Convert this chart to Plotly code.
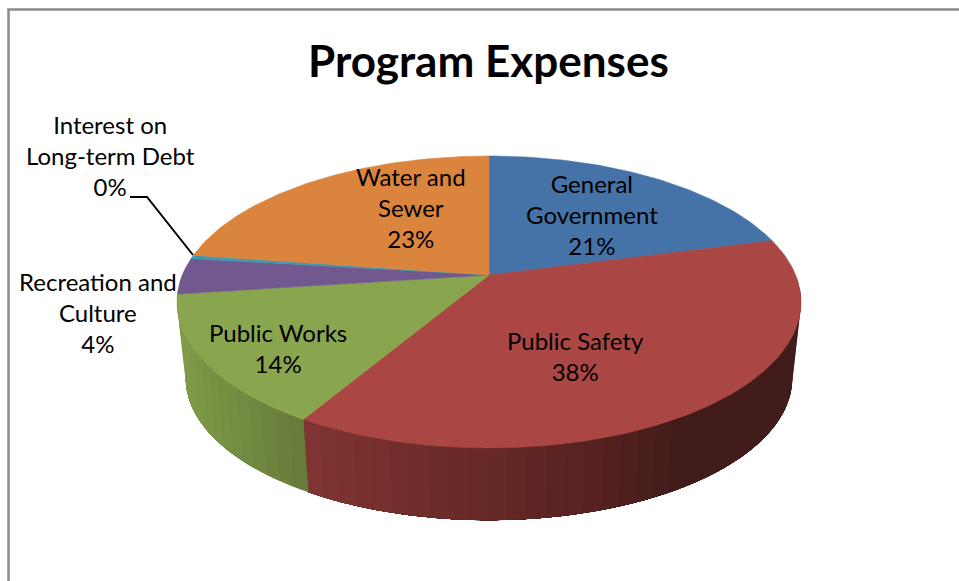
import math
import plotly.graph_objects as go

# ---- data ----
categories = ["General<br>Government", "Public Safety", "Public Works",
              "Recreation and<br>Culture", "Interest on<br>Long-term Debt", "Water and<br>Sewer"]
shares = [20.9, 37.6, 14.4, 4.0, 0.4, 22.7]
slice_colors = ["#4572A7", "#AA4643", "#89A54E", "#71588F", "#4198AF", "#DB843D"]
title_text = "Program Expenses"

# ---- projection of the tilted pie onto pixel axes ----
CX, CY = 489.0, 275.0
A, B, K = 306.6, 141.0, 0.185
WALL_SCALE, WALL_DROP = 0.972, 77.0


def top(theta):
    u, v = math.sin(theta), math.cos(theta)
    d = 1 + K * v
    return CX + A * u / d, CY - B * v / d


def bottom(theta):
    x, y = top(theta)
    return CX + (x - CX) * WALL_SCALE, CY + (y - CY) * WALL_SCALE + WALL_DROP


def mix(c1, c2, t):
    t = max(0.0, min(1.0, t))
    return "rgb(%d,%d,%d)" % tuple(round(a + (b - a) * t) for a, b in zip(c1, c2))


def wall_color(i, x):
    if i == 1:  # Public Safety
        if x < 590:
            return mix((128, 52, 50), (86, 34, 33), (x - 303) / 287)
        return mix((86, 34, 33), (66, 28, 26), (x - 590) / 90)
    if i in (2, 3):  # Public Works; its wall also closes the left silhouette
        return mix((102, 122, 58), (127, 155, 72), (303 - x) / 125)
    return slice_colors[i]


fig = go.Figure()

total = sum(shares)
bounds = [0.0]
for s in shares:
    bounds.append(bounds[-1] + s / total * 2 * math.pi)

# side walls, front half only (right extreme to left extreme)
front_start, front_end = math.radians(92), math.radians(272)
step = math.radians(3)
for i in range(len(shares)):
    a0, a1 = max(bounds[i], front_start), min(bounds[i + 1], front_end)
    if a1 <= a0:
        continue
    n = max(1, int((a1 - a0) / step))
    # each band runs to the end of the slice and is painted over by the next, so no seam shows
    for j in range(n):
        t0 = a0 + (a1 - a0) * j / n
        m = max(2, int((a1 - t0) / math.radians(2)))
        upper = [top(t0 + (a1 - t0) * k / m) for k in range(m + 1)]
        lower = [bottom(t0 + (a1 - t0) * k / m) for k in range(m + 1)]
        p = upper + lower[::-1] + [upper[0]]
        col = wall_color(i, top(t0 + (a1 - a0) / n / 2)[0])
        fig.add_trace(go.Scatter(x=[q[0] for q in p], y=[q[1] for q in p], mode="lines",
                                 fill="toself", fillcolor=col, line=dict(color=col, width=0),
                                 hoverinfo="skip", showlegend=False))

# top face
for i, name in enumerate(categories):
    a0, a1 = bounds[i], bounds[i + 1]
    n = max(2, int((a1 - a0) / math.radians(1)))
    pts = [top(a0 + (a1 - a0) * j / n) for j in range(n + 1)]
    xs = [CX] + [q[0] for q in pts] + [CX]
    ys = [CY] + [q[1] for q in pts] + [CY]
    fig.add_trace(go.Scatter(x=xs, y=ys, mode="lines", fill="toself", fillcolor=slice_colors[i],
                             line=dict(color=slice_colors[i], width=0.6),
                             name=name.replace("<br>", " "), showlegend=False, hoverinfo="name"))

# leader line for the tiny slice
fig.add_trace(go.Scatter(x=[130, 147, 193], y=[197, 197, 255], mode="lines",
                         line=dict(color="#000000", width=2), hoverinfo="skip", showlegend=False))

# frame (only top and left edges are visible in the crop)
fig.add_trace(go.Scatter(x=[959, 8.5, 8.5], y=[9.5, 9.5, 581], mode="lines",
                         line=dict(color="#8a8a8a", width=2.5), hoverinfo="skip", showlegend=False))

label_centers = [(592, 214), (575, 356), (278, 347.5), (98, 312), (110, 155), (411, 207)]
FONT = "Lato"
for name, s, (lx, ly) in zip(categories, shares, label_centers):
    fig.add_annotation(x=lx, y=ly, xref="x", yref="y", text=f"{name}<br>{round(s)}%", showarrow=False,
                       font=dict(family=FONT, size=24, color="#000000"), align="center")

fig.add_annotation(x=488, y=60, xref="x", yref="y", text=f"<b>{title_text}</b>", showarrow=False,
                   font=dict(family=FONT, size=44, color="#000000"))

fig.update_layout(width=959, height=581, margin=dict(l=0, r=0, t=0, b=0), autosize=False,
                  paper_bgcolor="#ffffff", plot_bgcolor="#ffffff", showlegend=False,
                  xaxis=dict(range=[0, 959], visible=False, fixedrange=True),
                  yaxis=dict(range=[581, 0], visible=False, fixedrange=True))

fig.write_html("out.html", config=dict(displayModeBar=False),
               post_script="document.body.style.margin='0';document.body.style.overflow='hidden';")
